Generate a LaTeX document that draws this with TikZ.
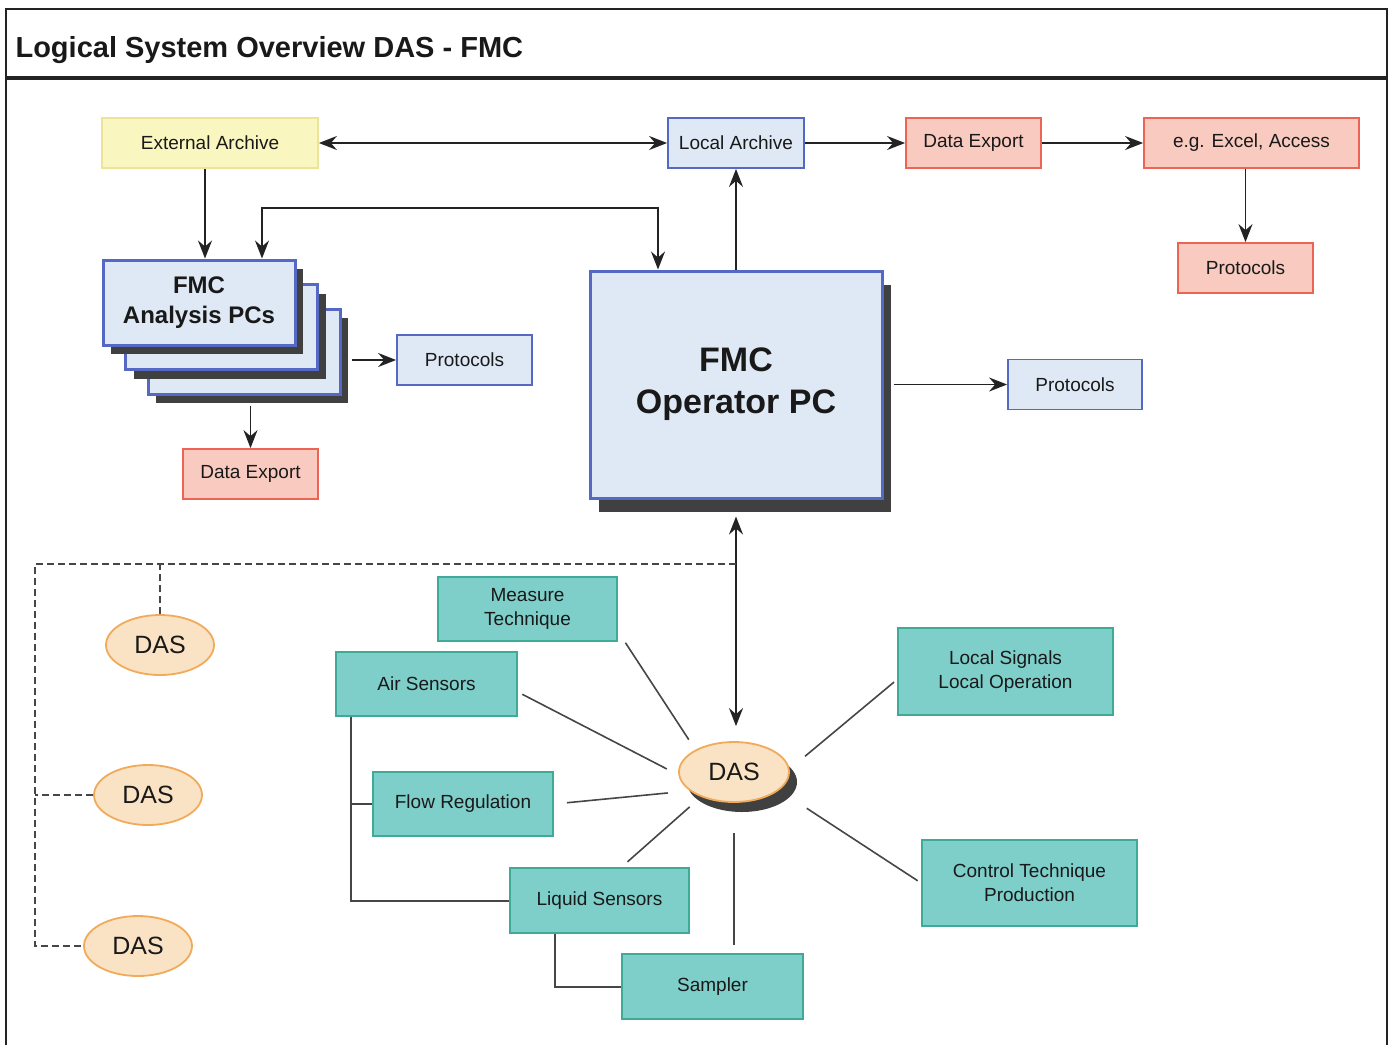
\documentclass[tikz,border=0pt]{standalone}
\usepackage{fontspec}
\setmainfont{Liberation Sans}
\usetikzlibrary{arrows.meta,shadows,shapes.geometric}
\definecolor{yellowfill}{RGB}{250,246,192}
\definecolor{yellowline}{RGB}{236,228,150}
\definecolor{bluefill}{RGB}{223,233,246}
\definecolor{blueline}{RGB}{84,104,196}
\definecolor{redfill}{RGB}{249,203,192}
\definecolor{redline}{RGB}{238,100,84}
\definecolor{tealfill}{RGB}{126,206,202}
\definecolor{tealline}{RGB}{64,170,152}
\definecolor{orangefill}{RGB}{250,226,196}
\definecolor{orangeline}{RGB}{240,170,90}
\definecolor{shadowgray}{RGB}{64,64,64}
\definecolor{linedark}{RGB}{35,35,35}
\definecolor{linegray}{RGB}{70,70,70}
\definecolor{textdark}{RGB}{25,25,25}
\tikzset{
  box/.style={
    rectangle,
    line width=1.8pt,
    inner sep=0pt,
    text=textdark,
    align=center,
    font=\fontsize{19}{24}\selectfont
  },
  box-yellow/.style={box, draw=yellowline, fill=yellowfill},
  box-blue/.style={box, draw=blueline, fill=bluefill},
  box-red/.style={box, draw=redline, fill=redfill},
  box-teal/.style={box, draw=tealline, fill=tealfill},
  small-box/.style={minimum width=135pt, minimum height=50pt},
  pc-box/.style={box-blue, line width=3pt, font=\bfseries\fontsize{24}{30}\selectfont},
  das-oval/.style={ellipse, draw=orangeline, fill=orangefill, line width=1.8pt,
    minimum width=108pt, minimum height=60pt, inner sep=0pt, text=textdark,
    font=\fontsize{25}{30}\selectfont},
  shadow-pc/.style={drop shadow={shadow xshift=8pt, shadow yshift=-9pt, fill=shadowgray, opacity=1}},
  shadow-op/.style={drop shadow={shadow xshift=9pt, shadow yshift=-14pt, fill=shadowgray, opacity=1}},
  shadow-das/.style={drop shadow={shadow xshift=8pt, shadow yshift=-10pt, fill=shadowgray, opacity=1}},
  arrow-one/.style={draw=linedark, line width=1.8pt, ->},
  arrow-both/.style={draw=linedark, line width=1.8pt, <->},
  spoke-line/.style={draw=linegray, line width=1.6pt},
  tree-line/.style={draw=linegray, line width=2pt},
  dash-line/.style={draw=linegray, line width=1.6pt, dash pattern=on 7pt off 4pt},
  frame-line/.style={draw=linedark, line width=1.5pt}
}

\begin{document}
\begin{tikzpicture}[x=1pt, y=-1pt, >={Stealth[length=18pt, width=14pt, inset=6pt]}]
  \useasboundingbox (0,0) rectangle (1389,1045);
  % Frame and title
  \draw[frame-line] (6,1045) -- (6,9) -- (1387,9) -- (1387,1045);
  \draw[frame-line, line width=3.5pt] (6,78) -- (1387,78);
  \node[anchor=base west, text=textdark, font=\bfseries\fontsize{29}{33}\selectfont] (title) at (12,57) {Logical System Overview DAS - FMC};

  % Top row
  \node[box-yellow, minimum width=216pt, minimum height=50pt] (ext-archive) at (210,143) {External Archive};
  \node[box-blue, minimum width=136pt, minimum height=50pt] (local-archive) at (736,143) {Local Archive};
  \node[box-red, small-box] (export-top) at (973.5,143) {Data Export};
  \node[box-red, minimum width=215pt, minimum height=50pt] (excel) at (1251.5,143) {e.g. Excel, Access};
  \node[box-red, small-box] (protocols-red) at (1245.5,268) {Protocols};

  % PCs
  \node[pc-box, shadow-pc, minimum width=192pt, minimum height=85pt] (analysis-c) at (244,351.5) {};
  \node[pc-box, shadow-pc, minimum width=192pt, minimum height=85pt] (analysis-b) at (221.5,327) {};
  \node[pc-box, shadow-pc, minimum width=192pt, minimum height=85pt] (analysis-a) at (199,302.5) {FMC\\Analysis PCs};
  \node[pc-box, shadow-op, minimum width=292pt, minimum height=227pt,
    font=\bfseries\fontsize{34}{42}\selectfont] (operator) at (736,384.5) {FMC\\Operator PC};
  \node[box-blue, small-box] (protocols-left) at (464.5,360) {Protocols};
  \node[box-red, small-box] (export-left) at (250.5,474) {Data Export};
  \node[box-blue, small-box, minimum width=134pt] (protocols-right) at (1075,384.5) {Protocols};

  % DAS units
  \node[das-oval] (das-a) at (160,645) {DAS};
  \node[das-oval] (das-b) at (148,795) {DAS};
  \node[das-oval] (das-c) at (138,946) {DAS};
  \node[das-oval, shadow-das, minimum width=110pt] (das-main) at (734,772) {DAS};

  % Field devices
  \node[box-teal, minimum width=179pt, minimum height=64pt] (measure) at (527.5,609) {Measure\\Technique};
  \node[box-teal, minimum width=181pt, minimum height=64pt] (air) at (426.5,684) {Air Sensors};
  \node[box-teal, minimum width=180pt, minimum height=64pt] (flow) at (463,804) {Flow Regulation};
  \node[box-teal, minimum width=179pt, minimum height=65pt] (liquid) at (599.5,900.5) {Liquid Sensors};
  \node[box-teal, minimum width=181pt, minimum height=65pt] (sampler) at (712.5,986.5) {Sampler};
  \node[box-teal, minimum width=215pt, minimum height=87pt] (local-signals) at (1005.5,671.5) {Local Signals\\Local Operation};
  \node[box-teal, minimum width=215pt, minimum height=86pt] (control) at (1029.5,883) {Control Technique\\Production};

  % Edges (top)
  \draw[arrow-both] (ext-archive) -- (local-archive);
  \draw[arrow-one] (local-archive) -- (export-top);
  \draw[arrow-one] (export-top) -- (excel);
  \draw[arrow-one] (protocols-red.north |- excel.south) -- (protocols-red.north);
  \draw[arrow-one] ([xshift=-5pt]ext-archive.south) -- ([xshift=-5pt]ext-archive.south |- analysis-a.north);
  \coordinate (an-in) at ([xshift=63pt]analysis-a.north);
  \coordinate (op-in) at ([xshift=-78pt]operator.north);
  \coordinate (link-y) at (0,208);
  \draw[arrow-both] (an-in) |- (op-in |- link-y) -- (op-in);
  \draw[arrow-one] (operator.north) -- (local-archive.south);
  \draw[arrow-one, shorten <=10pt] (analysis-c.east |- protocols-left.west) -- (protocols-left.west);
  \draw[arrow-one, shorten <=10pt] (analysis-c.south -| export-left.north) -- (export-left.north);
  \draw[arrow-one, shorten <=10pt] (operator.east) -- (protocols-right.west);
  \draw[arrow-both, shorten <=17pt, shorten >=15pt] (operator.south) -- (operator.south |- das-main.north);

  % Edges (DAS bus)
  \coordinate (bus-corner) at (35,564);
  \draw[dash-line] (bus-corner -| operator.south) -- (bus-corner) |- (das-c.west);
  \draw[dash-line] (das-a.north) -- (das-a.north |- bus-corner);
  \draw[dash-line] (das-b.west) -- (das-b.west -| bus-corner);

  % Edges (spokes)
  \draw[spoke-line, shorten <=1pt, shorten >=12pt] ([xshift=7pt]measure.south east) -- (das-main.150);
  \draw[spoke-line, shorten <=5pt, shorten >=13pt] ([yshift=-8pt]air.east) -- (das-main.183);
  \draw[spoke-line, shorten <=13pt, shorten >=22pt] (flow.east) -- (das-main.203);
  \draw[spoke-line, shorten <=8pt, shorten >=15pt] ([xshift=22pt]liquid.north) -- (das-main.217);
  \draw[spoke-line, shorten <=8pt, shorten >=30pt] (sampler.north -| das-main.south) -- (das-main.south);
  \draw[spoke-line, shorten <=4pt, shorten >=20pt] ([yshift=-8pt]local-signals.west) -- (das-main.3);
  \draw[spoke-line, shorten <=4pt, shorten >=33pt] (control.west) -- (das-main.338);

  % Edges (device tree)
  \coordinate (air-drop) at ([xshift=16pt]air.south west);
  \draw[tree-line] (air-drop) |- (liquid.west);
  \draw[tree-line] (flow.west) -- (flow.west -| air-drop);
  \draw[tree-line] ([xshift=46pt]liquid.south west) |- (sampler.west);

\end{tikzpicture}
\end{document}
